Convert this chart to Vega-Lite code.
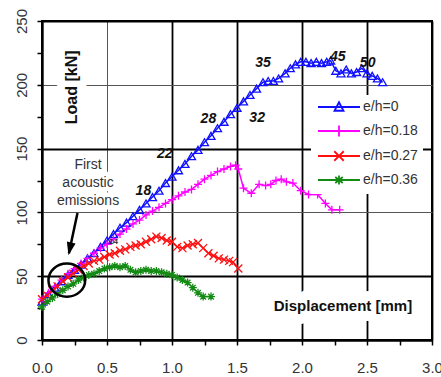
{
  "$schema": "https://vega.github.io/schema/vega-lite/v6.json",
  "autosize": {"type": "none"},
  "width": 390,
  "height": 319,
  "padding": {"left": 42, "top": 21, "right": 9, "bottom": 37},
  "background": "white",
  "config": {
    "view": {"stroke": "black", "strokeWidth": 2},
    "font": "Liberation Sans"
  },
  "resolve": {"scale": {"color": "independent", "shape": "independent"}},
  "datasets": {
    "curves": [
      {"s": "e/h=0", "x": 0.0, "y": 30}, {"s": "e/h=0", "x": 0.05, "y": 36}, {"s": "e/h=0", "x": 0.1, "y": 41}, {"s": "e/h=0", "x": 0.15, "y": 46}, {"s": "e/h=0", "x": 0.2, "y": 51}, {"s": "e/h=0", "x": 0.25, "y": 55}, {"s": "e/h=0", "x": 0.3, "y": 59}, {"s": "e/h=0", "x": 0.35, "y": 64}, {"s": "e/h=0", "x": 0.4, "y": 68}, {"s": "e/h=0", "x": 0.45, "y": 73}, {"s": "e/h=0", "x": 0.5, "y": 78}, {"s": "e/h=0", "x": 0.55, "y": 83}, {"s": "e/h=0", "x": 0.6, "y": 88}, {"s": "e/h=0", "x": 0.65, "y": 92}, {"s": "e/h=0", "x": 0.7, "y": 97}, {"s": "e/h=0", "x": 0.75, "y": 102}, {"s": "e/h=0", "x": 0.8, "y": 107}, {"s": "e/h=0", "x": 0.85, "y": 112}, {"s": "e/h=0", "x": 0.9, "y": 117}, {"s": "e/h=0", "x": 0.95, "y": 123}, {"s": "e/h=0", "x": 1.0, "y": 128}, {"s": "e/h=0", "x": 1.05, "y": 133}, {"s": "e/h=0", "x": 1.1, "y": 138}, {"s": "e/h=0", "x": 1.15, "y": 144}, {"s": "e/h=0", "x": 1.2, "y": 149}, {"s": "e/h=0", "x": 1.25, "y": 155}, {"s": "e/h=0", "x": 1.3, "y": 160}, {"s": "e/h=0", "x": 1.35, "y": 166}, {"s": "e/h=0", "x": 1.4, "y": 171}, {"s": "e/h=0", "x": 1.45, "y": 177}, {"s": "e/h=0", "x": 1.5, "y": 182}, {"s": "e/h=0", "x": 1.55, "y": 187}, {"s": "e/h=0", "x": 1.6, "y": 192}, {"s": "e/h=0", "x": 1.65, "y": 197}, {"s": "e/h=0", "x": 1.7, "y": 202}, {"s": "e/h=0", "x": 1.74, "y": 203}, {"s": "e/h=0", "x": 1.78, "y": 203}, {"s": "e/h=0", "x": 1.82, "y": 205}, {"s": "e/h=0", "x": 1.87, "y": 209}, {"s": "e/h=0", "x": 1.91, "y": 213}, {"s": "e/h=0", "x": 1.95, "y": 216}, {"s": "e/h=0", "x": 1.99, "y": 218}, {"s": "e/h=0", "x": 2.03, "y": 218}, {"s": "e/h=0", "x": 2.07, "y": 217}, {"s": "e/h=0", "x": 2.11, "y": 218}, {"s": "e/h=0", "x": 2.15, "y": 217}, {"s": "e/h=0", "x": 2.19, "y": 218}, {"s": "e/h=0", "x": 2.22, "y": 219}, {"s": "e/h=0", "x": 2.26, "y": 211}, {"s": "e/h=0", "x": 2.3, "y": 209}, {"s": "e/h=0", "x": 2.34, "y": 212}, {"s": "e/h=0", "x": 2.38, "y": 209}, {"s": "e/h=0", "x": 2.42, "y": 210}, {"s": "e/h=0", "x": 2.46, "y": 213}, {"s": "e/h=0", "x": 2.5, "y": 209}, {"s": "e/h=0", "x": 2.54, "y": 207}, {"s": "e/h=0", "x": 2.58, "y": 205}, {"s": "e/h=0", "x": 2.62, "y": 202},
      {"s": "e/h=0.18", "x": 0.0, "y": 32}, {"s": "e/h=0.18", "x": 0.05, "y": 37}, {"s": "e/h=0.18", "x": 0.1, "y": 42}, {"s": "e/h=0.18", "x": 0.15, "y": 47}, {"s": "e/h=0.18", "x": 0.2, "y": 52}, {"s": "e/h=0.18", "x": 0.25, "y": 56}, {"s": "e/h=0.18", "x": 0.3, "y": 60}, {"s": "e/h=0.18", "x": 0.35, "y": 64}, {"s": "e/h=0.18", "x": 0.4, "y": 68}, {"s": "e/h=0.18", "x": 0.45, "y": 72}, {"s": "e/h=0.18", "x": 0.5, "y": 75}, {"s": "e/h=0.18", "x": 0.55, "y": 79}, {"s": "e/h=0.18", "x": 0.6, "y": 83}, {"s": "e/h=0.18", "x": 0.65, "y": 87}, {"s": "e/h=0.18", "x": 0.7, "y": 91}, {"s": "e/h=0.18", "x": 0.75, "y": 94}, {"s": "e/h=0.18", "x": 0.8, "y": 98}, {"s": "e/h=0.18", "x": 0.85, "y": 101}, {"s": "e/h=0.18", "x": 0.9, "y": 104}, {"s": "e/h=0.18", "x": 0.95, "y": 107}, {"s": "e/h=0.18", "x": 1.0, "y": 110}, {"s": "e/h=0.18", "x": 1.05, "y": 113}, {"s": "e/h=0.18", "x": 1.1, "y": 116}, {"s": "e/h=0.18", "x": 1.15, "y": 118}, {"s": "e/h=0.18", "x": 1.2, "y": 122}, {"s": "e/h=0.18", "x": 1.25, "y": 126}, {"s": "e/h=0.18", "x": 1.3, "y": 129}, {"s": "e/h=0.18", "x": 1.35, "y": 132}, {"s": "e/h=0.18", "x": 1.4, "y": 134}, {"s": "e/h=0.18", "x": 1.45, "y": 136}, {"s": "e/h=0.18", "x": 1.49, "y": 137}, {"s": "e/h=0.18", "x": 1.51, "y": 134}, {"s": "e/h=0.18", "x": 1.55, "y": 119}, {"s": "e/h=0.18", "x": 1.61, "y": 115}, {"s": "e/h=0.18", "x": 1.67, "y": 122}, {"s": "e/h=0.18", "x": 1.72, "y": 121}, {"s": "e/h=0.18", "x": 1.76, "y": 122}, {"s": "e/h=0.18", "x": 1.8, "y": 125}, {"s": "e/h=0.18", "x": 1.84, "y": 126}, {"s": "e/h=0.18", "x": 1.88, "y": 124}, {"s": "e/h=0.18", "x": 1.93, "y": 123}, {"s": "e/h=0.18", "x": 1.99, "y": 117}, {"s": "e/h=0.18", "x": 2.05, "y": 114}, {"s": "e/h=0.18", "x": 2.12, "y": 114}, {"s": "e/h=0.18", "x": 2.18, "y": 107}, {"s": "e/h=0.18", "x": 2.23, "y": 102}, {"s": "e/h=0.18", "x": 2.29, "y": 102},
      {"s": "e/h=0.27", "x": 0.0, "y": 32}, {"s": "e/h=0.27", "x": 0.04, "y": 35}, {"s": "e/h=0.27", "x": 0.08, "y": 39}, {"s": "e/h=0.27", "x": 0.12, "y": 42}, {"s": "e/h=0.27", "x": 0.16, "y": 46}, {"s": "e/h=0.27", "x": 0.2, "y": 49}, {"s": "e/h=0.27", "x": 0.24, "y": 52}, {"s": "e/h=0.27", "x": 0.28, "y": 55}, {"s": "e/h=0.27", "x": 0.32, "y": 58}, {"s": "e/h=0.27", "x": 0.36, "y": 60}, {"s": "e/h=0.27", "x": 0.4, "y": 62}, {"s": "e/h=0.27", "x": 0.44, "y": 63}, {"s": "e/h=0.27", "x": 0.48, "y": 65}, {"s": "e/h=0.27", "x": 0.52, "y": 67}, {"s": "e/h=0.27", "x": 0.56, "y": 68}, {"s": "e/h=0.27", "x": 0.6, "y": 70}, {"s": "e/h=0.27", "x": 0.64, "y": 71}, {"s": "e/h=0.27", "x": 0.68, "y": 73}, {"s": "e/h=0.27", "x": 0.72, "y": 74}, {"s": "e/h=0.27", "x": 0.76, "y": 75}, {"s": "e/h=0.27", "x": 0.8, "y": 77}, {"s": "e/h=0.27", "x": 0.84, "y": 79}, {"s": "e/h=0.27", "x": 0.88, "y": 81}, {"s": "e/h=0.27", "x": 0.92, "y": 80}, {"s": "e/h=0.27", "x": 0.96, "y": 78}, {"s": "e/h=0.27", "x": 1.0, "y": 77}, {"s": "e/h=0.27", "x": 1.04, "y": 73}, {"s": "e/h=0.27", "x": 1.08, "y": 72}, {"s": "e/h=0.27", "x": 1.12, "y": 74}, {"s": "e/h=0.27", "x": 1.16, "y": 75}, {"s": "e/h=0.27", "x": 1.2, "y": 76}, {"s": "e/h=0.27", "x": 1.24, "y": 72}, {"s": "e/h=0.27", "x": 1.28, "y": 68}, {"s": "e/h=0.27", "x": 1.32, "y": 66}, {"s": "e/h=0.27", "x": 1.36, "y": 64}, {"s": "e/h=0.27", "x": 1.4, "y": 63}, {"s": "e/h=0.27", "x": 1.44, "y": 62}, {"s": "e/h=0.27", "x": 1.47, "y": 61}, {"s": "e/h=0.27", "x": 1.51, "y": 56},
      {"s": "e/h=0.36", "x": 0.0, "y": 26}, {"s": "e/h=0.36", "x": 0.04, "y": 30}, {"s": "e/h=0.36", "x": 0.08, "y": 33}, {"s": "e/h=0.36", "x": 0.12, "y": 36}, {"s": "e/h=0.36", "x": 0.16, "y": 39}, {"s": "e/h=0.36", "x": 0.2, "y": 42}, {"s": "e/h=0.36", "x": 0.24, "y": 44}, {"s": "e/h=0.36", "x": 0.28, "y": 47}, {"s": "e/h=0.36", "x": 0.32, "y": 49}, {"s": "e/h=0.36", "x": 0.36, "y": 51}, {"s": "e/h=0.36", "x": 0.4, "y": 52}, {"s": "e/h=0.36", "x": 0.44, "y": 54}, {"s": "e/h=0.36", "x": 0.48, "y": 56}, {"s": "e/h=0.36", "x": 0.52, "y": 57}, {"s": "e/h=0.36", "x": 0.56, "y": 58}, {"s": "e/h=0.36", "x": 0.6, "y": 57}, {"s": "e/h=0.36", "x": 0.64, "y": 58}, {"s": "e/h=0.36", "x": 0.68, "y": 55}, {"s": "e/h=0.36", "x": 0.72, "y": 53}, {"s": "e/h=0.36", "x": 0.76, "y": 54}, {"s": "e/h=0.36", "x": 0.8, "y": 55}, {"s": "e/h=0.36", "x": 0.84, "y": 54}, {"s": "e/h=0.36", "x": 0.88, "y": 54}, {"s": "e/h=0.36", "x": 0.92, "y": 53}, {"s": "e/h=0.36", "x": 0.96, "y": 52}, {"s": "e/h=0.36", "x": 1.0, "y": 51}, {"s": "e/h=0.36", "x": 1.04, "y": 49}, {"s": "e/h=0.36", "x": 1.08, "y": 47}, {"s": "e/h=0.36", "x": 1.12, "y": 45}, {"s": "e/h=0.36", "x": 1.16, "y": 41}, {"s": "e/h=0.36", "x": 1.2, "y": 37}, {"s": "e/h=0.36", "x": 1.24, "y": 34}, {"s": "e/h=0.36", "x": 1.3, "y": 34}
    ],
    "ylabel": [{"x": 0.228, "y": 198, "t": "Load [kN]"}],
    "xlabel": [{"x": 2.315, "y": 26.4, "t": "Displacement [mm]"}],
    "note": [{"x": 0.354, "y": 137, "t": "First|acoustic|emissions"}],
    "nums": [
      {"x": 0.78, "y": 117, "t": "18"}, {"x": 0.945, "y": 145.5, "t": "22"}, {"x": 1.28, "y": 173.5, "t": "28"},
      {"x": 1.655, "y": 174, "t": "32"}, {"x": 1.70, "y": 217, "t": "35"}, {"x": 2.275, "y": 222, "t": "45"}, {"x": 2.505, "y": 217, "t": "50"}
    ],
    "small": [{"x": 0.55, "y": 77, "t": "14"}],
    "arrow": [{"x": 0.273, "y": 99.6, "x2": 0.207, "y2": 68}],
    "tip": [{"x": 0.204, "y": 66.5}],
    "ring": [{"x": 0.191, "y": 46.9}]
  },
  "encoding": {
    "x": {
      "field": "x", "type": "quantitative",
      "scale": {"domain": [0, 3], "nice": false, "zero": false},
      "axis": {
        "title": null,
        "values": [0, 0.25, 0.5, 0.75, 1, 1.25, 1.5, 1.75, 2, 2.25, 2.5, 2.75, 3],
        "labelExpr": "datum.value % 0.5 == 0 ? format(datum.value, '.1f') : ''",
        "labelFont": "Liberation Sans", "labelFontSize": 15, "labelColor": "#333",
        "labelBaseline": "alphabetic", "labelPadding": 27, "labelFlush": false, "labelOverlap": false,
        "tickSize": 5, "tickColor": "black", "tickWidth": 1.5,
        "domainColor": "black", "domainWidth": 2,
        "grid": true,
        "gridColor": {"condition": {"test": "datum.value == 0.5", "value": "#555"}, "value": "black"},
        "gridWidth": {"condition": {"test": "datum.value == 0.5", "value": 1}, "value": 1.8},
        "gridOpacity": {"condition": {"test": "datum.value % 0.5 != 0", "value": 0}, "value": 1}
      }
    },
    "y": {
      "field": "y", "type": "quantitative",
      "scale": {"domain": [0, 250], "nice": false, "zero": false},
      "axis": {
        "title": null,
        "values": [0, 25, 50, 75, 100, 125, 150, 175, 200, 225, 250],
        "labelExpr": "datum.value % 50 == 0 ? datum.label : ''",
        "labelFont": "Liberation Sans", "labelFontSize": 15, "labelColor": "#333",
        "labelAngle": 270, "labelAlign": "center", "labelBaseline": "alphabetic",
        "labelPadding": 11, "labelFlush": false, "labelOverlap": false,
        "tickSize": 5, "tickColor": "black", "tickWidth": 1.5,
        "domainColor": "black", "domainWidth": 2,
        "grid": true,
        "gridColor": {"condition": {"test": "datum.value == 100 || datum.value == 200", "value": "#555"}, "value": "black"},
        "gridWidth": {"condition": {"test": "datum.value == 100 || datum.value == 200", "value": 1}, "value": 1.8},
        "gridOpacity": {"condition": {"test": "datum.value % 50 != 0", "value": 0}, "value": 1}
      }
    }
  },
  "layer": [
    {"data": {"name": "ylabel"}, "mark": {"type": "text", "font": "Liberation Sans", "fontWeight": "bold", "fontSize": 16, "angle": 270, "align": "center", "baseline": "middle", "color": "white", "stroke": "white", "strokeWidth": 16, "strokeJoin": "round"}, "encoding": {"text": {"field": "t"}}},
    {"data": {"name": "xlabel"}, "mark": {"type": "text", "font": "Liberation Sans", "fontWeight": "bold", "fontSize": 15, "align": "center", "baseline": "middle", "color": "white", "stroke": "white", "strokeWidth": 20, "strokeJoin": "round"}, "encoding": {"text": {"field": "t"}}},
    {"data": {"name": "note"}, "mark": {"type": "text", "font": "Liberation Sans", "fontSize": 14, "lineBreak": "|", "lineHeight": 18, "align": "center", "baseline": "middle", "color": "white", "stroke": "white", "strokeWidth": 9, "strokeJoin": "round"}, "encoding": {"text": {"field": "t"}}},
    {"data": {"name": "ylabel"}, "mark": {"type": "text", "font": "Liberation Sans", "fontWeight": "bold", "fontSize": 16, "angle": 270, "align": "center", "baseline": "middle", "color": "#111"}, "encoding": {"text": {"field": "t"}}},
    {"data": {"name": "xlabel"}, "mark": {"type": "text", "font": "Liberation Sans", "fontWeight": "bold", "fontSize": 15, "align": "center", "baseline": "middle", "color": "#111"}, "encoding": {"text": {"field": "t"}}},
    {"data": {"name": "note"}, "mark": {"type": "text", "font": "Liberation Sans", "fontSize": 14, "lineBreak": "|", "lineHeight": 18, "align": "center", "baseline": "middle", "color": "#333"}, "encoding": {"text": {"field": "t"}}},
    {
      "data": {"name": "curves"},
      "mark": {"type": "line", "strokeWidth": 1.5},
      "encoding": {
        "color": {"field": "s", "type": "nominal", "scale": {"domain": ["e/h=0", "e/h=0.18", "e/h=0.27", "e/h=0.36"], "range": ["#1010ff", "#ff00ff", "#ff1010", "#138a13"]}, "legend": null}
      }
    },
    {
      "data": {"name": "curves"},
      "mark": {"type": "point", "filled": false, "strokeWidth": 1.3, "size": 64, "opacity": 1},
      "encoding": {
        "color": {"field": "s", "type": "nominal", "scale": {"domain": ["e/h=0", "e/h=0.18", "e/h=0.27", "e/h=0.36"], "range": ["#1010ff", "#ff00ff", "#ff1010", "#138a13"]}, "legend": null},
        "shape": {"field": "s", "type": "nominal", "scale": {"domain": ["e/h=0", "e/h=0.18", "e/h=0.27", "e/h=0.36"], "range": ["triangle-up", "M-1,0H1M0,-1V1", "M-1,-1L1,1M-1,1L1,-1", "M-1,0H1M0,-1V1M-0.7,-0.7L0.7,0.7M-0.7,0.7L0.7,-0.7"]}, "legend": null}
      }
    },
    {
      "data": {"name": "curves"},
      "mark": {"type": "point", "filled": false, "strokeWidth": 1.8, "size": 4, "opacity": 0},
      "encoding": {
        "color": {
          "field": "s", "type": "nominal",
          "scale": {"domain": ["e/h=0", "e/h=0.18", "e/h=0.27", "e/h=0.36"], "range": ["#1010ff", "#ff00ff", "#ff1010", "#138a13"]},
          "legend": {
            "title": null, "orient": "none", "legendX": 269, "legendY": 74,
            "fillColor": "white", "padding": 5, "rowPadding": 6,
            "labelFont": "Liberation Sans", "labelFontSize": 14, "labelColor": "#333", "labelOffset": 33,
            "symbolSize": 100, "symbolStrokeWidth": 1.8, "symbolOpacity": 1, "symbolFillColor": "transparent"
          }
        },
        "shape": {
          "field": "s", "type": "nominal",
          "scale": {"domain": ["e/h=0", "e/h=0.18", "e/h=0.27", "e/h=0.36"], "range": ["M-1,0H7.4M3.2,-0.95L4.1,0.75L2.3,0.75Z", "M-1,0H7.4M3.2,-1.1V1.1", "M-1,0H7.4M2.25,-0.95L4.15,0.95M2.25,0.95L4.15,-0.95", "M-1,0H7.4M3.2,-0.9V0.9M2.45,-0.6L3.95,0.6M2.45,0.6L3.95,-0.6"]},
          "legend": {
            "title": null, "orient": "none", "legendX": 269, "legendY": 74,
            "fillColor": "white", "padding": 5, "rowPadding": 6,
            "labelFont": "Liberation Sans", "labelFontSize": 14, "labelColor": "#333", "labelOffset": 33,
            "symbolSize": 100, "symbolStrokeWidth": 1.8, "symbolOpacity": 1, "symbolFillColor": "transparent"
          }
        }
      }
    },
    {"data": {"name": "arrow"}, "mark": {"type": "rule", "color": "black", "strokeWidth": 2.5}, "encoding": {"x2": {"field": "x2"}, "y2": {"field": "y2"}}},
    {"data": {"name": "tip"}, "mark": {"type": "point", "shape": "M0,0L-0.55,-1.6L0.55,-1.6Z", "size": 262, "angle": 12, "filled": true, "color": "black", "opacity": 1}, "encoding": {}},
    {"data": {"name": "ring"}, "mark": {"type": "point", "shape": "M-1,0A1,0.9,0,1,1,1,0A1,0.9,0,1,1,-1,0Z", "size": 1350, "filled": false, "color": "black", "strokeWidth": 2.5, "opacity": 1}, "encoding": {}},
    {"data": {"name": "nums"}, "mark": {"type": "text", "font": "Liberation Sans", "fontWeight": "bold", "fontStyle": "italic", "fontSize": 14, "align": "center", "baseline": "middle", "color": "#111"}, "encoding": {"text": {"field": "t"}}},
    {"data": {"name": "small"}, "mark": {"type": "text", "font": "Liberation Sans", "fontWeight": "bold", "fontSize": 8, "align": "center", "baseline": "middle", "color": "#333"}, "encoding": {"text": {"field": "t"}}}
  ]
}
